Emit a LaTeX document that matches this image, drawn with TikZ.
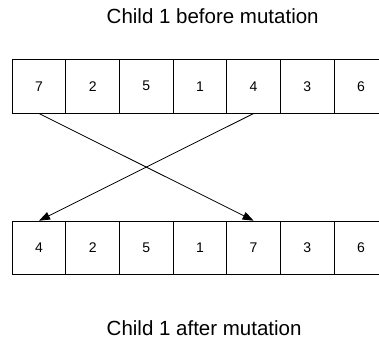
\documentclass[tikz,border=0pt]{standalone}
\usepackage{fontspec}
\setmainfont{Liberation Sans}
\usetikzlibrary{arrows.meta}
\tikzset{
  cell/.style={draw=black, line width=0.8pt, minimum width=53.65pt, minimum height=53.7pt, inner sep=0pt, font=\fontsize{14}{16}\selectfont, anchor=north west},
  title/.style={anchor=base west, inner sep=0pt, font=\fontsize{20.5}{24}\selectfont},
  swap/.style={draw=black, line width=0.8pt, -{Triangle[length=11pt,width=8pt]}}
}
\begin{document}
\begin{tikzpicture}[x=1pt,y=1pt]
\useasboundingbox (0,0) rectangle (379,-339);
\clip (0,0) rectangle (379,-339);
\node[title] (ttop) at (106.5,-24) {Child 1 before mutation};
\node[title] (tbot) at (106.5,-335) {Child 1 after mutation};
\foreach \v [count=\i] in {7,2,5,1,4,3,6} {
  \node[cell] (t\i) at ({11.8+(\i-1)*53.65},-59) {\v};
}
\foreach \v [count=\i] in {4,2,5,1,7,3,6} {
  \node[cell] (b\i) at ({11.8+(\i-1)*53.65},-220.7) {\v};
}
\draw[swap] (t1.south) -- (b5.north);
\draw[swap] (t5.south) -- (b1.north);
\end{tikzpicture}
\end{document}
